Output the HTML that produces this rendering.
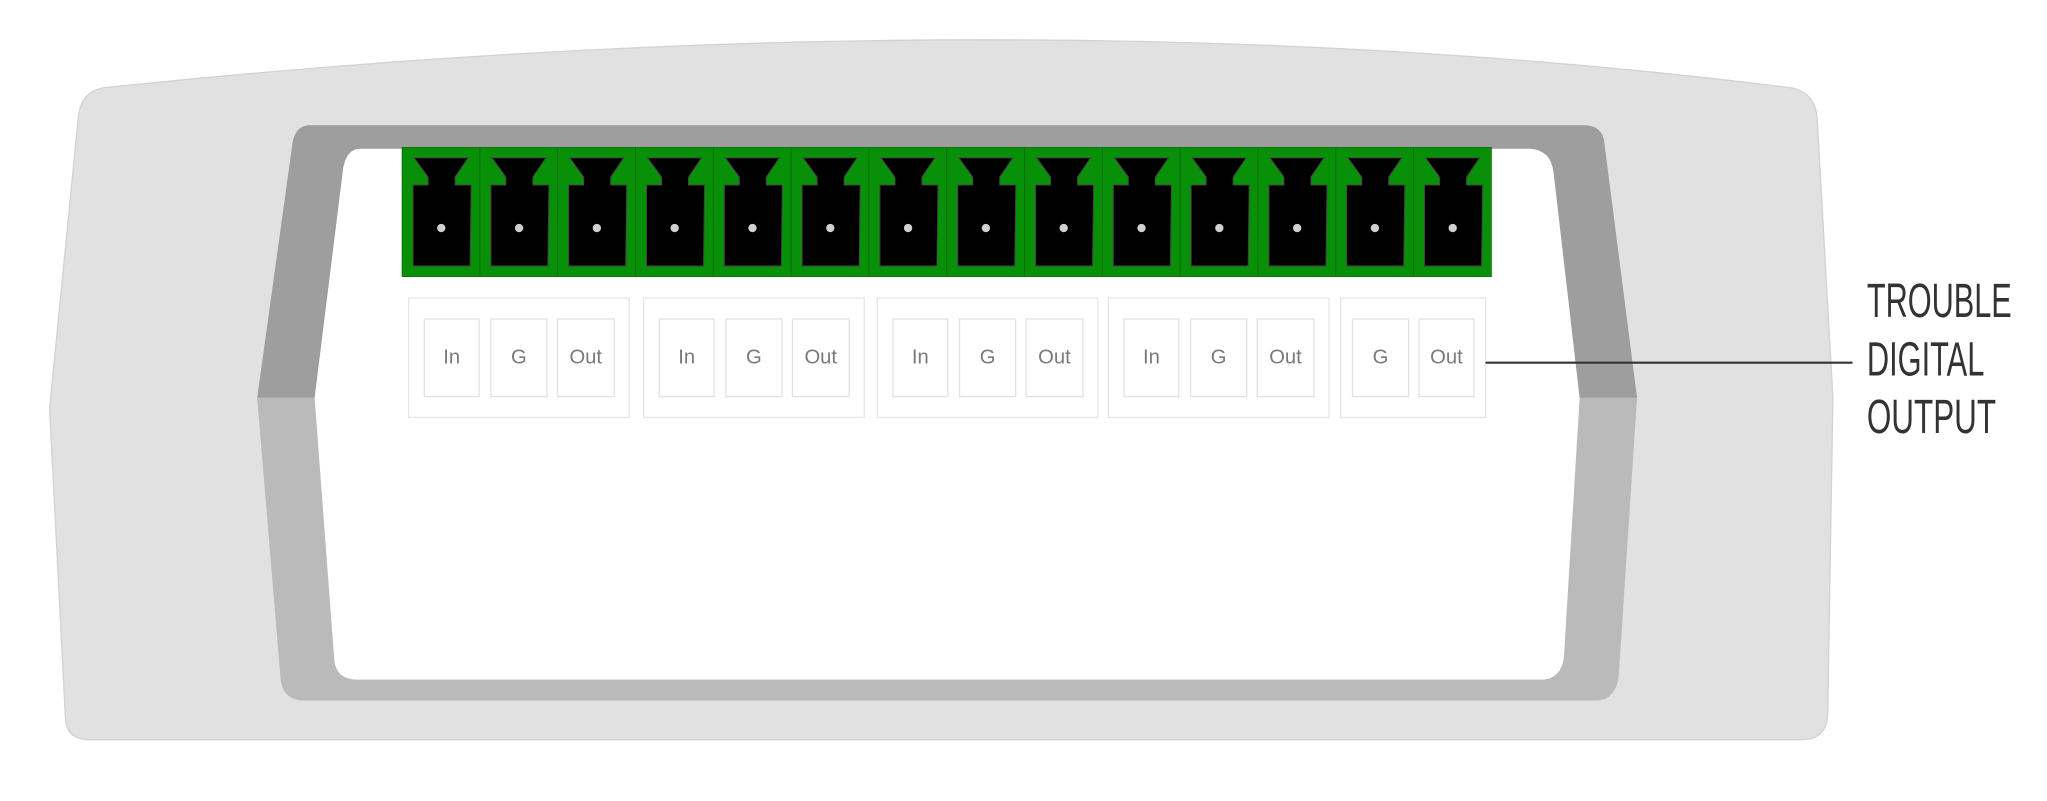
<!DOCTYPE html>
<html><head><meta charset="utf-8"><style>html,body{margin:0;padding:0;background:#fff;}svg{display:block;}</style></head>
<body>
<svg width="2047" height="801" viewBox="0 0 1568 614" preserveAspectRatio="none" xmlns="http://www.w3.org/2000/svg">
<defs>
<g id="c">
<rect x="0" y="0" width="59.6" height="99" fill="#089008" stroke="#0a6a0a" stroke-width="0.6"/>
<polygon points="9.2,8 50.6,8 40.6,22.7 40.6,28.8 52.9,28.8 52.1,90.9 8.4,90.9 8.4,28.8 19.9,28.8 19.9,22.7" fill="#000" stroke="#444" stroke-width="0.8"/>
<circle cx="30" cy="61.8" r="3.2" fill="#d0d0d0"/>
</g>
<g id="grp" font-family="'Liberation Sans',sans-serif" font-size="15.5" fill="#7a7a7a" text-anchor="middle">
<rect x="0" y="0" width="169" height="91.5" fill="#fff" stroke="#e6e6e6" stroke-width="1"/>
<rect x="12" y="16" width="42" height="59.5" fill="#fff" stroke="#e2e2e2" stroke-width="1"/>
<rect x="63" y="16" width="43" height="59.5" fill="#fff" stroke="#e2e2e2" stroke-width="1"/>
<rect x="114" y="16" width="43.5" height="59.5" fill="#fff" stroke="#e2e2e2" stroke-width="1"/>
<text x="33" y="50">In</text><text x="84.5" y="50">G</text><text x="135.7" y="50">Out</text>
</g>
</defs>
<path d="M82,67 Q784,-6 1370,67 Q1391,70 1392,92 L1404,305 L1400,548 Q1399,567 1380,567 L68,567 Q50,567 50,548 L38,313 L60,90 Q62,69 82,67 Z" fill="#e1e1e1" stroke="#d2d2d2" stroke-width="1"/>
<path d="M236,96 L1215,96 Q1228,97 1229,110 L1254,305 L197,305 L224,110 Q226,97 236,96 Z" fill="#9e9e9e"/>
<path d="M197,305 L1254,305 L1240,517 Q1238,537 1222,537 L233,537 Q217,537 215,521 Z" fill="#bababa"/>
<path d="M276,114 L1172,114 Q1188,115 1190,132 L1210,305 L1198,503 Q1196,521 1180,521 L272,521 Q257,520 256,505 L241,305 L263,128 Q266,114 276,114 Z" fill="#fff"/>
<g transform="translate(308,113)">
<use href="#c" x="0"/><use href="#c" x="59.6"/><use href="#c" x="119.2"/><use href="#c" x="178.8"/><use href="#c" x="238.4"/><use href="#c" x="298"/><use href="#c" x="357.6"/><use href="#c" x="417.2"/><use href="#c" x="476.8"/><use href="#c" x="536.4"/><use href="#c" x="596"/><use href="#c" x="655.6"/><use href="#c" x="715.2"/><use href="#c" x="774.8"/>
</g>
<use href="#grp" x="313" y="228.5"/>
<use href="#grp" x="493" y="228.5"/>
<use href="#grp" x="672" y="228.5"/>
<use href="#grp" x="849" y="228.5"/>
<g transform="translate(1027,228.5)" font-family="'Liberation Sans',sans-serif" font-size="15.5" fill="#7a7a7a" text-anchor="middle">
<rect x="0" y="0" width="111" height="91.5" fill="#fff" stroke="#e6e6e6" stroke-width="1"/>
<rect x="9" y="16" width="43" height="59.5" fill="#fff" stroke="#e2e2e2" stroke-width="1"/>
<rect x="60" y="16" width="42" height="59.5" fill="#fff" stroke="#e2e2e2" stroke-width="1"/>
<text x="30.5" y="50">G</text><text x="81" y="50">Out</text>
</g>
<line x1="1138" y1="278" x2="1419" y2="278" stroke="#333" stroke-width="1.6"/>
<g font-family="'Liberation Sans Narrow','Liberation Sans',sans-serif" font-size="37" fill="#333">
<text x="1430" y="243" textLength="111" lengthAdjust="spacingAndGlyphs">TROUBLE</text>
<text x="1430" y="288" textLength="90" lengthAdjust="spacingAndGlyphs">DIGITAL</text>
<text x="1430" y="332" textLength="99" lengthAdjust="spacingAndGlyphs">OUTPUT</text>
</g>
</svg>
</body></html>
